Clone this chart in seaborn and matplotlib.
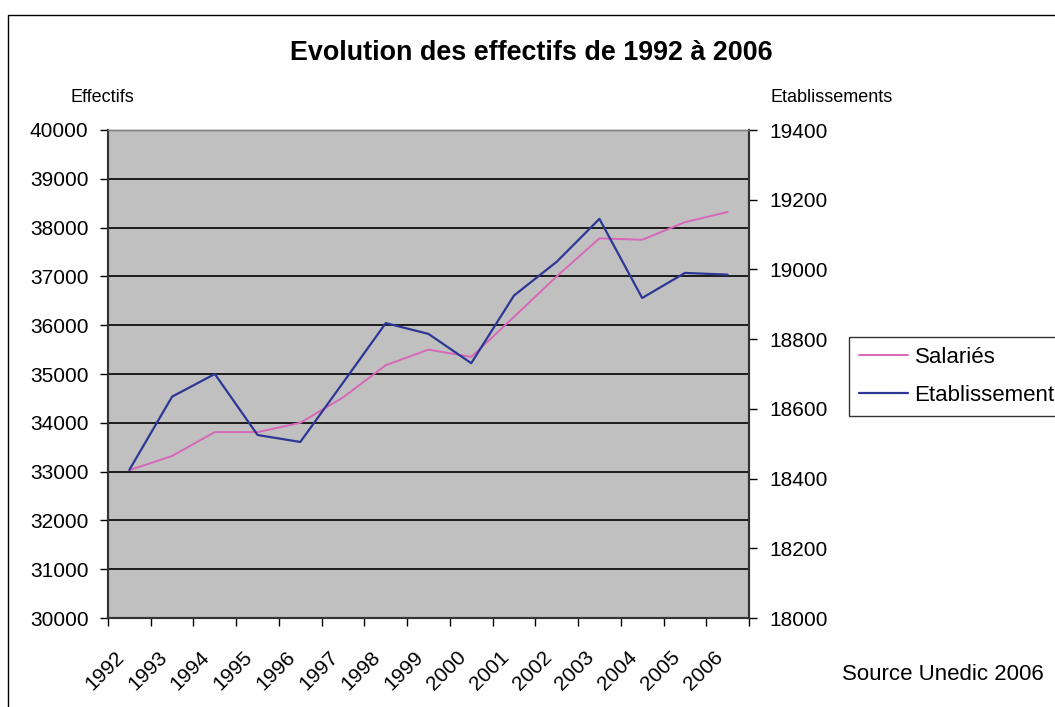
import numpy as np
import pandas as pd
import seaborn as sns
import matplotlib.pyplot as plt
from matplotlib.patches import Rectangle
from matplotlib.transforms import ScaledTranslation

# Data
years = [1992, 1993, 1994, 1995, 1996, 1997, 1998, 1999,
         2000, 2001, 2002, 2003, 2004, 2005, 2006]
salaries = [33030, 33320, 33810, 33810, 34000, 34520, 35180, 35500,
            35350, 36170, 37000, 37780, 37750, 38110, 38320]
etablissements = [18425, 18635, 18700, 18525, 18505, 18675, 18846, 18815,
                  18731, 18925, 19022, 19145, 18918, 18990, 18985]
left_ticks = list(range(30000, 40001, 1000))
right_ticks = list(range(18000, 19401, 200))

sns.set_theme(style="white")
plt.rcParams['font.family'] = ['Liberation Sans', 'DejaVu Sans']
plt.rcParams['text.color'] = 'black'
plt.rcParams['xtick.color'] = 'black'
plt.rcParams['ytick.color'] = 'black'

PINK = '#D867B9'
BLUE = '#2D3796'
W, H = 1055, 707

df = pd.DataFrame({'Année': years, 'Salariés': salaries,
                   'Etablissements': etablissements})

fig = plt.figure(figsize=(W / 100, H / 100), dpi=100)
ax = fig.add_axes([108 / W, 1 - 618 / H, (749 - 108) / W, (618 - 130) / H])
ax.set_facecolor('#C0C0C0')
ax2 = ax.twinx()

sns.lineplot(data=df, x='Année', y='Salariés', ax=ax, color=PINK,
             linewidth=1.4, label='Salariés', legend=False)
sns.lineplot(data=df, x='Année', y='Etablissements', ax=ax2, color=BLUE,
             linewidth=1.6, label='Etablissement', legend=False)

# category axis: boundaries as major ticks, labels centred on categories
ax.set_xlim(years[0] - 0.5, years[-1] + 0.5)
ax.set_xticks(np.arange(years[0] - 0.5, years[-1] + 1, 1.0))
ax.set_xticklabels([])
ax.set_xticks(years, minor=True)
ax.set_xticklabels([str(y) for y in years], minor=True)
ax.tick_params(axis='x', which='major', direction='out', length=6,
               width=1, color='black', bottom=True)
ax.tick_params(axis='x', which='minor', length=0, pad=26, labelsize=15)
shift = ScaledTranslation(-8 / 100, 0, fig.dpi_scale_trans)
for lbl in ax.get_xticklabels(minor=True):
    lbl.set_rotation(45)
    lbl.set_ha('right')
    lbl.set_va('center')
    lbl.set_rotation_mode('anchor')
    lbl.set_transform(lbl.get_transform() + shift)

ax.set_ylim(30000, 40000)
ax.set_yticks(left_ticks)
ax.tick_params(axis='y', direction='out', length=6, width=1, color='black',
               left=True, labelsize=15, pad=8)
ax2.set_ylim(18000, 19400)
ax2.set_yticks(right_ticks)
ax2.tick_params(axis='y', direction='out', length=6, width=1, color='black',
                right=True, labelsize=15, pad=9)

ax.grid(axis='y', color='black', linewidth=1.2)
ax.grid(axis='x', visible=False)
ax2.grid(False)
ax.set_xlabel('')
ax.set_ylabel('')
ax2.set_ylabel('')

for a in (ax, ax2):
    for side, sp in a.spines.items():
        sp.set_visible(True)
        sp.set_color('#333333' if side != 'top' else '#808080')
        sp.set_linewidth(1.5 if side != 'top' else 1)

fig.text(531 / W, 1 - 53 / H, 'Evolution des effectifs de 1992 à 2006',
         ha='center', va='center', fontsize=19.4, fontweight='bold')
fig.text(70 / W, 1 - 97 / H, 'Effectifs', ha='left', va='center',
         fontsize=13)
fig.text(770 / W, 1 - 97 / H, 'Etablissements', ha='left', va='center',
         fontsize=13)
fig.text(842 / W, 1 - 675 / H, 'Source Unedic 2006', ha='left',
         va='center', fontsize=16)

h1, l1 = ax.get_legend_handles_labels()
h2, l2 = ax2.get_legend_handles_labels()
leg = fig.legend(h1 + h2, l1 + l2, loc='upper left',
                 bbox_to_anchor=(849 / W, 1 - 337 / H), borderaxespad=0,
                 fontsize=16, frameon=True, fancybox=False, handlelength=2.2,
                 handletextpad=0.3, labelspacing=0.75, borderpad=0.45)
leg.get_frame().set_edgecolor('black')
leg.get_frame().set_linewidth(1)

# outer chart border
fig.patches.append(Rectangle((8 / W, -0.1), 1.2, 1.1 - 15 / H,
                             transform=fig.transFigure, fill=False,
                             edgecolor='black', linewidth=1, clip_on=False))

fig.savefig('out.png', dpi=100)
plt.close(fig)
